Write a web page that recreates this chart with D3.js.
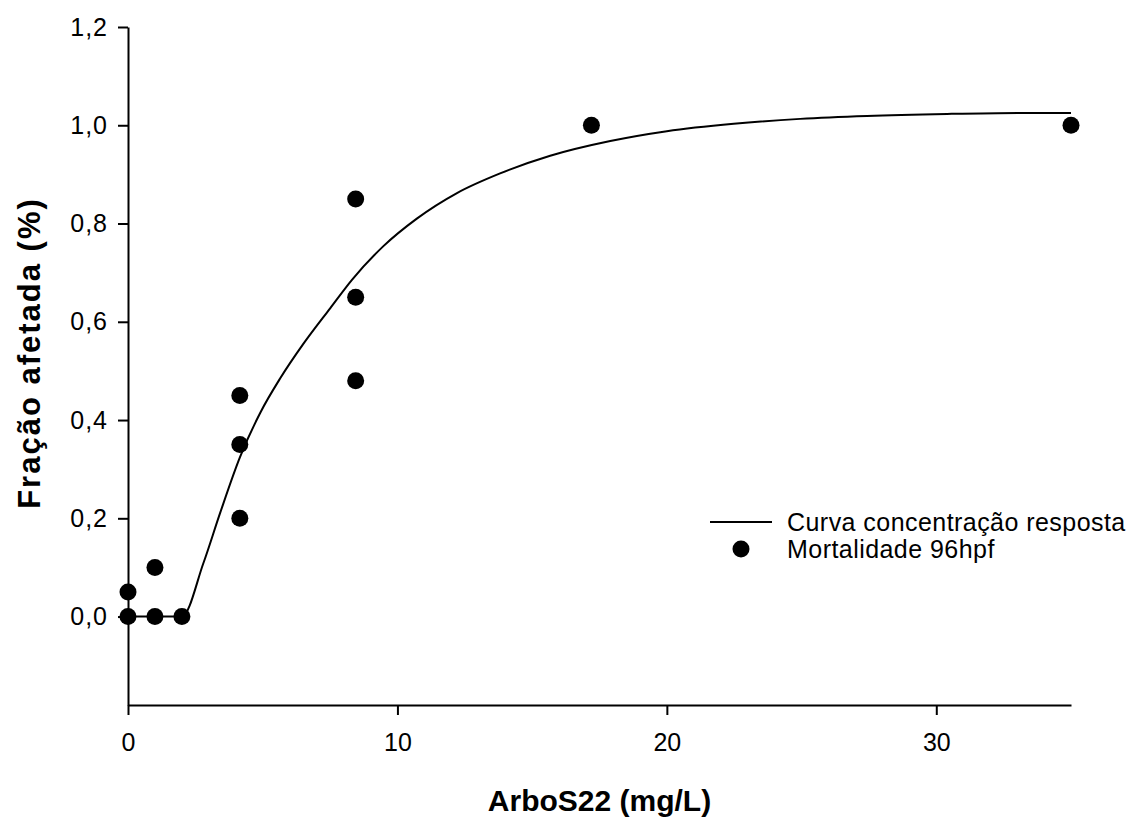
<!DOCTYPE html>
<html>
<head>
<meta charset="utf-8">
<script src="https://cdn.jsdelivr.net/npm/d3@7"></script>
<style>
  body { margin: 0; background: #fff; }
  svg { font-family: Arial, "Liberation Sans", sans-serif; }
</style>
</head>
<body>
<script>
// observed points (concentration mg/L, fraction affected)
var concentracao = [0, 0, 1, 1, 2, 4.15, 4.15, 4.15, 8.45, 8.45, 8.45, 17.2, 35];
var mortalidade  = [0, 0.05, 0, 0.1, 0, 0.2, 0.35, 0.45, 0.48, 0.65, 0.85, 1.0, 1.0];

// fitted curve
var curvaX = [0, 2, 2.8, 3.42, 4.16, 4.91, 5.65, 6.52, 7.51, 8.32, 9.48, 10.72, 12.21, 13.81, 15.67, 17.9, 20, 22.48, 24.95, 27.43, 30.4, 33.25, 35];
var curvaY = [0, 0, 0.109, 0.211, 0.325, 0.415, 0.485, 0.556, 0.628, 0.686, 0.754, 0.810, 0.862, 0.902, 0.938, 0.968, 0.988, 1.003, 1.013, 1.019, 1.023, 1.025, 1.025];

var xTicks = [0, 10, 20, 30];
var yTicks = [0, 0.2, 0.4, 0.6, 0.8, 1.0, 1.2];

var width = 1131, height = 818;

var svg = d3.select('body').append('svg')
    .attr('width', width)
    .attr('height', height);

var x = d3.scaleLinear().domain([0, 35]).range([128, 1071]);
var y = d3.scaleLinear().domain([-0.18, 1.2]).range([705, 27]);

var ptBR = d3.formatLocale({decimal: ",", thousands: ".", grouping: [3], currency: ["R$", ""]});
var fmt = ptBR.format(".1f");

// axes
var yAxis = svg.append("g")
    .attr("transform", "translate(" + x(0) + ",0)")
    .call(d3.axisLeft(y).tickValues(yTicks).tickFormat(fmt).tickSize(10).tickSizeOuter(0).tickPadding(10));

var xAxis = svg.append("g")
    .attr("transform", "translate(0," + y(-0.18) + ")")
    .call(d3.axisBottom(x).tickValues(xTicks).tickSize(10).tickSizeOuter(0).tickPadding(18));

[xAxis, yAxis].forEach(function(a) {
  a.selectAll("path, line").attr("stroke", "#000").attr("stroke-width", 2);
  a.selectAll("text").attr("font-size", 25).attr("fill", "#000")
    .attr("font-family", "Arial, 'Liberation Sans', sans-serif");
});
yAxis.selectAll("text").attr("letter-spacing", 1);

// curve
var linha = d3.line()
    .x(function(d) { return x(d[0]); })
    .y(function(d) { return y(d[1]); })
    .curve(d3.curveMonotoneX);

svg.append("path")
    .datum(d3.zip(curvaX, curvaY))
    .attr("d", linha)
    .attr("fill", "none")
    .attr("stroke", "#000")
    .attr("stroke-width", 2);

// points
svg.append("g")
  .selectAll("circle")
  .data(d3.zip(concentracao, mortalidade))
  .enter().append("circle")
    .attr("cx", function(d) { return x(d[0]); })
    .attr("cy", function(d) { return y(d[1]); })
    .attr("r", 8.5)
    .attr("fill", "#000");

// axis titles
svg.append("text")
    .attr("x", x(17.5))
    .attr("y", 811)
    .attr("text-anchor", "middle")
    .attr("font-size", 30)
    .attr("font-weight", "bold")
    .text("ArboS22 (mg/L)");

svg.append("text")
    .attr("transform", "translate(40," + 353 + ") rotate(-90)")
    .attr("text-anchor", "middle")
    .attr("font-size", 31)
    .attr("letter-spacing", 2)
    .attr("font-weight", "bold")
    .text("Fração afetada (%)");

// legend
var leg = svg.append("g");
leg.append("line")
    .attr("x1", 710).attr("x2", 772)
    .attr("y1", 522).attr("y2", 522)
    .attr("stroke", "#000").attr("stroke-width", 2);
leg.append("circle")
    .attr("cx", 741).attr("cy", 549).attr("r", 8.5).attr("fill", "#000");
leg.selectAll("text.lt")
  .data(["Curva concentração resposta", "Mortalidade 96hpf"])
  .enter().append("text")
    .attr("x", 787)
    .attr("y", function(d, i) { return 531 + i * 27; })
    .attr("font-size", 25)
    .attr("letter-spacing", 0.45)
    .text(function(d) { return d; });
</script>
</body>
</html>
